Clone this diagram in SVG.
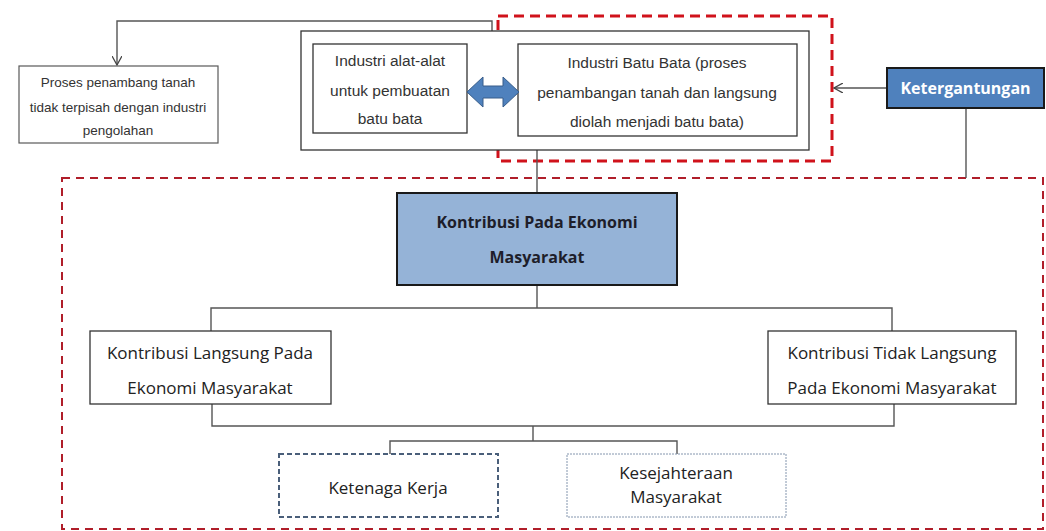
<svg xmlns="http://www.w3.org/2000/svg" width="1046" height="531" viewBox="0 0 1046 531">
<defs>
<style>
.box{fill:#fff;stroke:#333;stroke-width:1.3}
.line{fill:none;stroke:#555;stroke-width:1.4}
.t{font-family:"Liberation Sans",Arial,sans-serif;font-size:13.5px;fill:#333;text-anchor:middle}
.ti{font-family:"Liberation Sans",Arial,sans-serif;font-size:15.5px;fill:#333;text-anchor:middle}
.m{font-family:"Open Sans","Noto Sans",sans-serif;font-size:17px;fill:#222;text-anchor:middle}
.b{font-family:"Open Sans","Noto Sans",sans-serif;font-size:16px;font-weight:bold;text-anchor:middle}
</style>
<marker id="open" viewBox="0 0 10 10" refX="9" refY="5" markerWidth="10" markerHeight="10" markerUnits="userSpaceOnUse" orient="auto">
<path d="M0,0 L9,5 L0,10" fill="none" stroke="#444" stroke-width="1.3"/>
</marker>
</defs>
<rect width="1046" height="531" fill="#fff"/>

<g id="red-frames">
<rect x="498" y="16" width="334" height="145" fill="none" stroke="#D0121B" stroke-width="3" stroke-dasharray="10 6"/>
<rect x="62" y="178" width="981" height="351" fill="none" stroke="#B01E2A" stroke-width="2" stroke-dasharray="8 6"/>
</g>

<g id="connectors">
<path class="line" d="M492,92 V21 H117 V65" marker-end="url(#open)"/>
<path class="line" d="M887,88 H834" marker-end="url(#open)"/>
<path class="line" d="M966,108 V178"/>
<path class="line" d="M537,150 V193"/>
<path class="line" d="M537,285 V308 M211,331 V308 H892 V331"/>
<path class="line" d="M212,404 V426 H894 V404 M533,426 V441 M390,454 V441 H677 V454"/>
</g>

<g id="node-proses">
<rect x="19" y="66" width="199" height="77" fill="#fff" stroke="#595959" stroke-width="1.2"/>
<text class="t" x="118" y="87">Proses penambang tanah</text>
<text class="t" x="118" y="112">tidak terpisah dengan industri</text>
<text class="t" x="118" y="135">pengolahan</text>
</g>

<g id="node-outer">
<rect class="box" x="301" y="31" width="508" height="119"/>
</g>

<g id="node-alat">
<rect class="box" x="313" y="44" width="154" height="89"/>
<text class="ti" x="390" y="66">Industri alat-alat</text>
<text class="ti" x="390" y="96">untuk pembuatan</text>
<text class="ti" x="390" y="124">batu bata</text>
</g>

<g id="node-batubata">
<rect class="box" x="518" y="44" width="279" height="92"/>
<text class="ti" x="657" y="68">Industri Batu Bata (proses</text>
<text class="ti" x="657" y="98">penambangan tanah dan langsung</text>
<text class="ti" x="657" y="127">diolah menjadi batu bata)</text>
</g>

<g id="double-arrow">
<path d="M467,92 L483,77 V86 H503 V77 L519,92 L503,107 V98 H483 V107 Z" fill="#4F81BD" stroke="#385D8A" stroke-width="1"/>
</g>

<g id="node-ketergantungan">
<rect x="887" y="68" width="157" height="40" fill="#4F81BD" stroke="#1a1a1a" stroke-width="2"/>
<text class="b" x="965.5" y="94" fill="#fff">Ketergantungan</text>
</g>

<g id="node-kontribusi">
<rect x="397" y="193" width="280" height="92" fill="#95B3D7" stroke="#1a1a1a" stroke-width="2"/>
<text class="b" x="537" y="228" fill="#1e1e2a">Kontribusi Pada Ekonomi</text>
<text class="b" x="537" y="263" fill="#1e1e2a">Masyarakat</text>
</g>

<g id="node-langsung">
<rect class="box" x="90" y="331" width="241" height="73"/>
<text class="m" x="210" y="359">Kontribusi Langsung Pada</text>
<text class="m" x="210" y="394">Ekonomi Masyarakat</text>
</g>

<g id="node-tidak-langsung">
<rect class="box" x="768" y="331" width="248" height="73"/>
<text class="m" x="892" y="359">Kontribusi Tidak Langsung</text>
<text class="m" x="892" y="394">Pada Ekonomi Masyarakat</text>
</g>

<g id="node-ketenaga">
<rect x="279" y="454" width="219" height="63" fill="#fff" stroke="#4A5F7A" stroke-width="2" stroke-dasharray="5 3"/>
<text class="m" x="388" y="494">Ketenaga Kerja</text>
</g>

<g id="node-kesejahteraan">
<rect x="567" y="454" width="219" height="63" fill="#fff" stroke="#8496AE" stroke-width="1" stroke-dasharray="2 1"/>
<text class="m" x="676" y="479">Kesejahteraan</text>
<text class="m" x="676" y="503">Masyarakat</text>
</g>
</svg>
